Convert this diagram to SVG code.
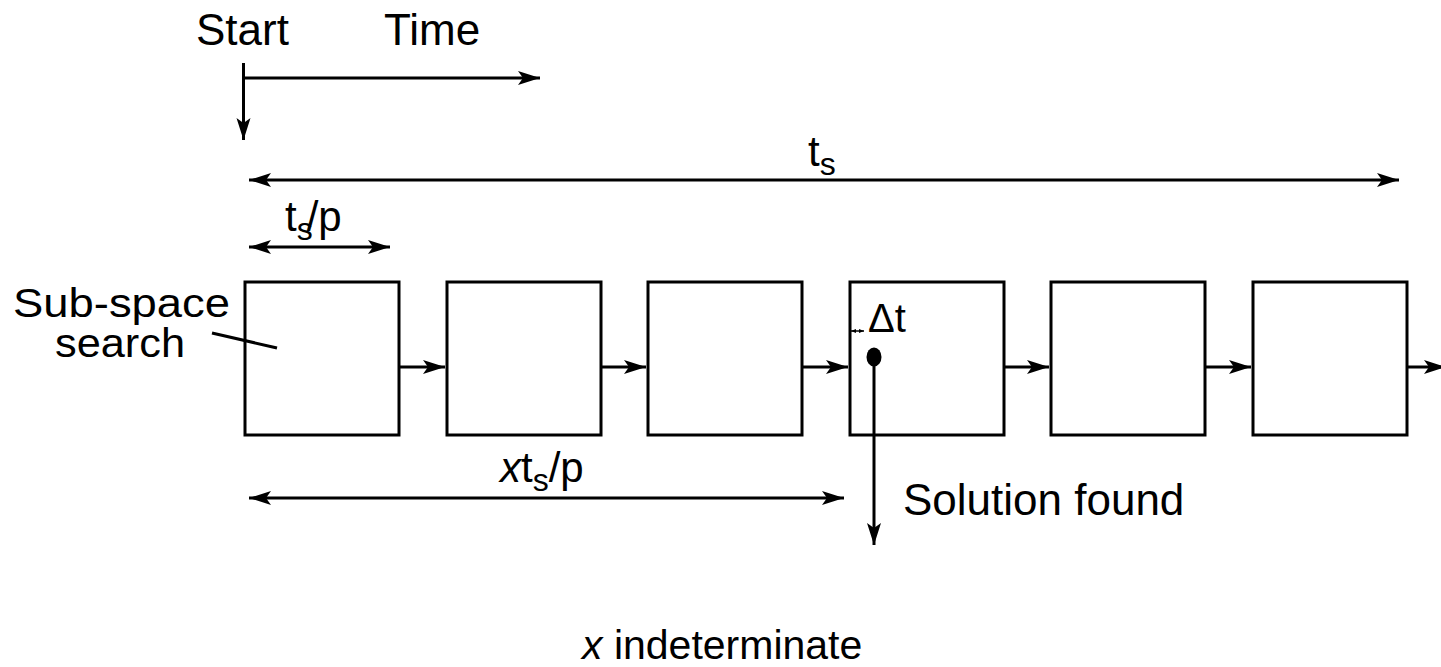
<svg xmlns="http://www.w3.org/2000/svg" width="1441" height="667" viewBox="0 0 1441 667">
<style>
.t{font-family:"Liberation Sans",Arial,sans-serif;fill:#000}
.box{fill:#fff;stroke:#000;stroke-width:3}
.ln{stroke:#000;stroke-width:3;fill:none}
</style>
<defs>
<marker id="ah" markerUnits="userSpaceOnUse" markerWidth="24" markerHeight="16" refX="22" refY="7" orient="auto-start-reverse">
<path d="M0,0 L22,7 L0,14 L5,7 z" fill="#000"/>
</marker>
<marker id="ahs" markerUnits="userSpaceOnUse" markerWidth="6" markerHeight="6" refX="5" refY="2" orient="auto-start-reverse">
<path d="M0,0 L5,2 L0,4 z" fill="#000"/>
</marker>
</defs>
<rect width="1441" height="667" fill="#fff"/>
<g id="labels">
<text class="t" x="196" y="45" font-size="44">Start</text>
<text class="t" x="384" y="45" font-size="44">Time</text>
<text class="t" x="808" y="166" font-size="42">t<tspan font-size="32" dy="9">s</tspan></text>
<text class="t" x="285" y="231" font-size="42">t<tspan font-size="32" dy="9">s</tspan><tspan dy="-9" dx="-6">/p</tspan></text>
<text class="t" x="500" y="482" font-size="42"><tspan font-style="italic">x</tspan>t<tspan font-size="32" dy="9">s</tspan><tspan dy="-9">/p</tspan></text>
<text class="t" x="13" y="317" font-size="40" textLength="217" lengthAdjust="spacingAndGlyphs">Sub-space</text>
<text class="t" x="55" y="357" font-size="40" textLength="130" lengthAdjust="spacingAndGlyphs">search</text>
<text class="t" x="903" y="515" font-size="44">Solution found</text>
<text class="t" x="582" y="659" font-size="41"><tspan font-style="italic">x</tspan> indeterminate</text>
</g>
<g id="nodes">
<g id="box1"><rect class="box" x="245" y="282" width="154" height="153"/></g>
<g id="box2"><rect class="box" x="447" y="282" width="154" height="153"/></g>
<g id="box3"><rect class="box" x="648" y="282" width="154" height="153"/></g>
<g id="box4"><rect class="box" x="850" y="282" width="154" height="153"/>
<text class="t" x="868" y="332" font-size="40">Δt</text>
<ellipse cx="874" cy="357" rx="7.5" ry="9.5" fill="#000"/>
</g>
<g id="box5"><rect class="box" x="1051" y="282" width="154" height="153"/></g>
<g id="box6"><rect class="box" x="1253" y="282" width="154" height="153"/></g>
</g>
<g id="connectors">
<line class="ln" x1="243.5" y1="63" x2="243.5" y2="140" marker-end="url(#ah)"/>
<line class="ln" x1="242" y1="78" x2="540" y2="78" marker-end="url(#ah)"/>
<line class="ln" x1="249" y1="180" x2="1399" y2="180" marker-start="url(#ah)" marker-end="url(#ah)"/>
<line class="ln" x1="249" y1="247" x2="390" y2="247" marker-start="url(#ah)" marker-end="url(#ah)"/>
<line class="ln" x1="249" y1="498" x2="844" y2="498" marker-start="url(#ah)" marker-end="url(#ah)"/>
<line class="ln" x1="212" y1="333" x2="277" y2="348"/>
<line class="ln" x1="399" y1="367" x2="445" y2="367" marker-end="url(#ah)"/>
<line class="ln" x1="601" y1="367" x2="646" y2="367" marker-end="url(#ah)"/>
<line class="ln" x1="802" y1="367" x2="848" y2="367" marker-end="url(#ah)"/>
<line class="ln" x1="1004" y1="367" x2="1049" y2="367" marker-end="url(#ah)"/>
<line class="ln" x1="1205" y1="367" x2="1251" y2="367" marker-end="url(#ah)"/>
<line class="ln" x1="1407" y1="367" x2="1446" y2="367" marker-end="url(#ah)"/>
<line class="ln" x1="874" y1="360" x2="874" y2="545" marker-end="url(#ah)"/>
<line x1="851" y1="331" x2="864" y2="331" stroke="#000" stroke-width="1.5" marker-start="url(#ahs)" marker-end="url(#ahs)"/>
</g>
</svg>
